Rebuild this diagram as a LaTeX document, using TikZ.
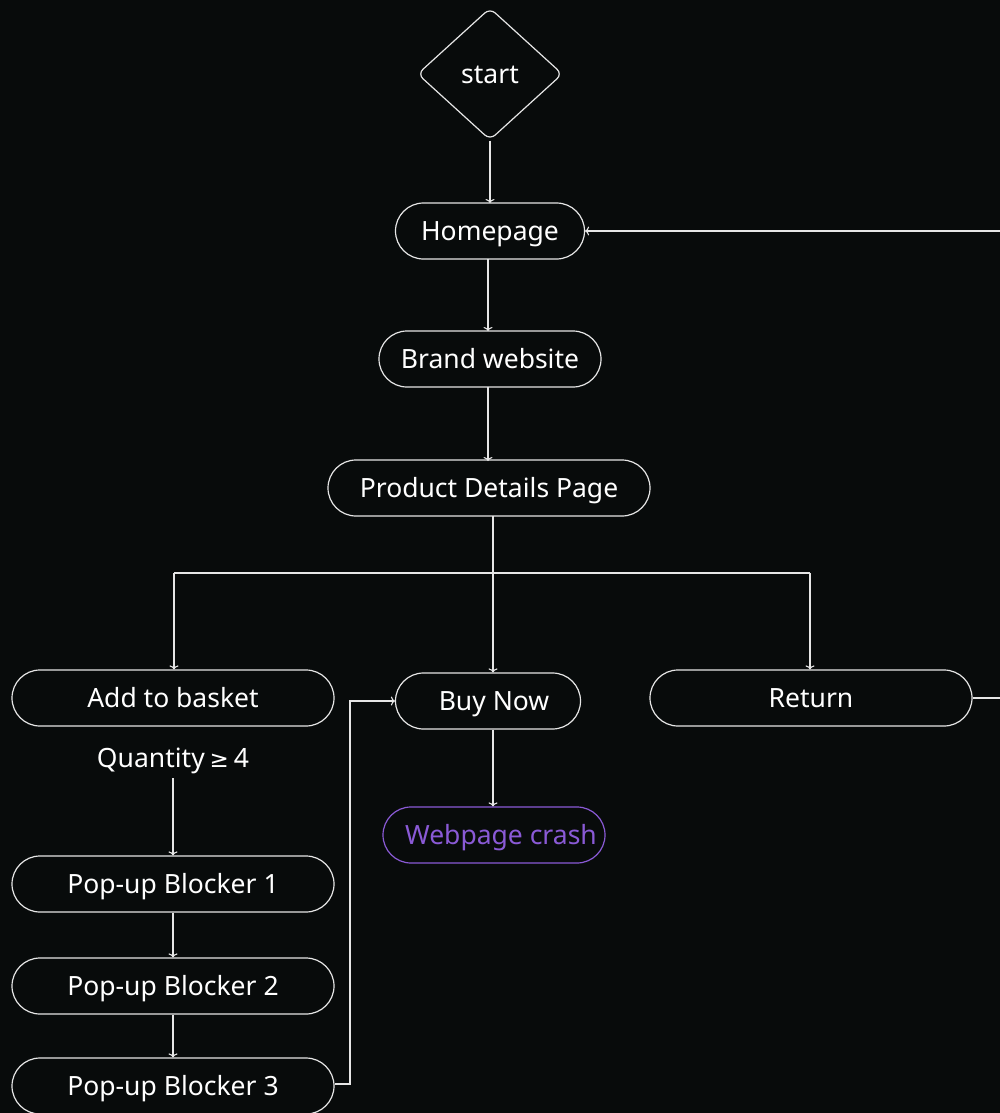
\documentclass[tikz,border=0pt]{standalone}
\usepackage{fontspec}
\setmainfont{Noto Sans}
\newfontfamily\symfont{DejaVu Sans}
\usetikzlibrary{shapes.geometric,arrows.meta}
\definecolor{bg}{HTML}{080B0B}
\definecolor{ln}{HTML}{E6E6E6}
\definecolor{purp}{HTML}{8A5AD6}
\tikzset{
  lbl/.style={text=white, font=\fontsize{26.5}{30}\selectfont, text height=19pt, text depth=0pt},
  pill/.style={lbl, draw=ln, line width=1.2pt, rectangle, rounded corners=28pt, minimum height=56pt, inner sep=0pt},
  conn/.style={draw=ln, line width=1.1pt, -{To[length=4pt,width=9pt]}},
  plain/.style={draw=ln, line width=1.1pt},
}
\begin{document}
\begin{tikzpicture}[x=1pt,y=-1pt]
\fill[bg] (0,0) rectangle (1000,1113);
\useasboundingbox (0,0) rectangle (1000,1113);
\node[lbl, draw=ln, line width=1.2pt, diamond, minimum width=145pt, minimum height=132pt, inner sep=0pt, rounded corners=7pt] (start) at (490,74) {start};
\node[pill, minimum width=189pt] (home) at (490,231) {Homepage};
\node[pill, minimum width=222pt] (brand) at (490,359) {Brand website};
\node[pill, minimum width=322pt] (pdp) at (489,488) {Product Details Page};
\node[pill, minimum width=322pt] (add) at (173,698) {Add to basket};
\node[pill, minimum width=185pt] (buy) at (488,701) {\hspace*{12pt}Buy Now};
\node[pill, minimum width=322pt] (ret) at (811,698) {Return};
\node[lbl, inner sep=2pt] (qty) at (173,758) {Quantity\hspace{-2pt} {\symfont\fontsize{23}{28}\selectfont ≥}\hspace{-2pt} 4};
\node[pill, draw=purp, text=purp, minimum width=222pt] (crash) at (494,835) {\hspace*{14pt}Webpage crash};
\node[pill, minimum width=322pt] (pb1) at (173,884) {Pop-up Blocker 1};
\node[pill, minimum width=322pt] (pb2) at (173,986) {Pop-up Blocker 2};
\node[pill, minimum width=322pt] (pb3) at (173,1086) {Pop-up Blocker 3};
\coordinate (split) at (493,573);
\coordinate (far1) at (1010,698);
\coordinate (far2) at (1010,231);
\coordinate (side) at (350,1084);
\coordinate (qbot) at (173,778);
\draw[conn] (start.south) -- (490,203);
\draw[conn] (488,259) -- (488,331);
\draw[conn] (488,387) -- (488,461);
\draw[plain] (493,516) -- (split);
\draw[plain] (174,573) -- (810,573);
\draw[conn] (174,573) -- (add.north -| 174,0);
\draw[conn] (split) -- (buy.north -| split);
\draw[conn] (810,573) -- (ret.north -| 810,0);
\draw[conn] (qbot) -- (pb1.north);
\draw[conn] (pb1.south) -- (pb2.north);
\draw[conn] (pb2.south) -- (pb3.north);
\draw[conn] (buy.south -| 493,0) -- (crash.north -| 493,0);
\draw[conn] (pb3.east |- side) -- (side) -- (side |- buy.west) -- (buy.west);
\draw[conn] (ret.east) -- (far1) -- (far2) -- (home.east);
\end{tikzpicture}
\end{document}
